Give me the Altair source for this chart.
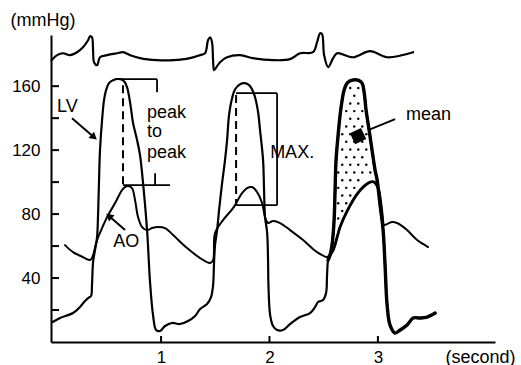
import altair as alt
import numpy as np
import pandas as pd

FONT = "Liberation Sans"

# ---- data (time in s, pressure in mmHg) ----
lv_t = [0.0, 0.068, 0.188, 0.253, 0.290, 0.327, 0.354, 0.363, 0.373, 0.391,
        0.410, 0.419, 0.428, 0.437, 0.456, 0.474, 0.493, 0.520, 0.557, 0.622,
        0.659, 0.686, 0.714, 0.742, 0.779, 0.806, 0.834, 0.871, 0.899, 0.926,
        0.954, 0.991, 1.037, 1.101, 1.175, 1.249, 1.314, 1.360, 1.424, 1.461,
        1.480, 1.489,
        1.498, 1.517, 1.535, 1.563, 1.590, 1.609, 1.627, 1.655, 1.683, 1.729,
        1.775, 1.812, 1.839, 1.867, 1.895, 1.913, 1.941, 1.950, 1.959, 1.978,
        1.987, 1.990, 2.006, 2.033, 2.070, 2.125, 2.190, 2.282, 2.374, 2.421,
        2.448, 2.494, 2.522, 2.531, 2.541,
        2.559, 2.577, 2.596, 2.605, 2.614, 2.633, 2.651, 2.670, 2.688, 2.716,
        2.762, 2.817, 2.854, 2.873, 2.891, 2.919, 2.946, 2.974, 2.993, 3.020,
        3.048, 3.066, 3.085, 3.112, 3.159, 3.205, 3.269, 3.325, 3.389, 3.454,
        3.528]
lv_p = [12.5, 15.0, 18.1, 21.9, 25.0, 27.5, 28.75, 35.6, 50.0, 57.5,
        65.6, 79.4, 101.25, 120, 138.75, 151.25, 157.5, 161.9, 163.75, 164.4,
        163.1, 159.4, 150, 136.9, 126.25, 116.9, 99.4, 70, 36.9, 16.9,
        7.5, 6.9, 10.0, 11.9, 11.25, 13.1, 16.25, 20.6, 23.75, 28.1,
        35.6, 50.0,
        60.6, 70, 82.5, 99.4, 113.75, 126.25, 141.9, 152.5, 158.1, 161.25,
        161.9, 160.6, 158.1, 153.1, 143.75, 132.5, 113.75, 95, 78.1, 68.75,
        51.25, 36.9, 16.9, 10.0, 7.5, 7.5, 11.25, 15.6, 18.1, 21.9,
        25.0, 26.25, 30.6, 41.9, 51.25,
        54.4, 60.6, 76.25, 95, 113.75, 129.4, 141.9, 151.25, 157.5, 161.9,
        163.75, 163.75, 161.9, 156.25, 145, 132.5, 120, 107.5, 101.25, 85.6,
        70, 48.1, 23.1, 10.6, 5.6, 7.5, 10.6, 15, 15, 15.6,
        18.1]

ao_t = [0.114, 0.188, 0.280, 0.345, 0.363, 0.410, 0.456, 0.502, 0.576, 0.640,
        0.668, 0.696, 0.732, 0.760, 0.788, 0.825, 0.871, 0.917, 0.972, 1.037,
        1.111, 1.240, 1.360, 1.452, 1.480, 1.498, 1.572, 1.664, 1.747, 1.793,
        1.839, 1.886, 1.932, 1.959, 1.987, 2.033, 2.098, 2.190, 2.310, 2.439,
        2.541, 2.587, 2.624, 2.651, 2.716, 2.808, 2.873, 2.928, 2.965, 3.002,
        3.029, 3.048, 3.085, 3.131, 3.177, 3.223, 3.269, 3.362, 3.463]
ao_p = [60.6, 56.25, 53.1, 51.25, 52.5, 63.75, 71.25, 78.1, 86.9, 95,
        96.9, 97.5, 96.25, 88.75, 78.1, 71.9, 70, 71.25, 71.9, 71.25,
        66.9, 58.75, 52.5, 49.4, 51.25, 68.1, 76.25, 83.75, 93.1, 96.25,
        96.9, 93.75, 86.9, 78.1, 74.4, 75.6, 74.4, 70, 63.75, 56.25,
        53.1, 57.5, 65.6, 71.9, 81.9, 92.5, 97.5, 100, 100, 96.25,
        85.6, 73.1, 73.75, 75, 74.4, 72.5, 70, 63.75, 59.4]

ecg_t = [-0.01, 0.041, 0.096, 0.161, 0.225, 0.280, 0.327, 0.345, 0.363, 0.373,
         0.382, 0.410, 0.437, 0.502, 0.594, 0.649, 0.714, 0.806, 0.963, 1.111,
         1.267, 1.360, 1.406, 1.433, 1.452, 1.470, 1.480, 1.489, 1.517, 1.544,
         1.609, 1.729, 1.849, 2.033, 2.190, 2.282, 2.402, 2.439, 2.467, 2.485,
         2.504, 2.541, 2.587, 2.624, 2.771, 2.928, 3.085, 3.325]
ecg_p = [176.25, 179.4, 180.6, 179.4, 181.25, 184.4, 188.75, 191.25, 190.6, 182.5,
         175, 173.1, 178.1, 179.4, 180.6, 181.25, 179.4, 177.5, 176.25, 176.25,
         177.5, 179.4, 180.6, 188.75, 190.6, 187.5, 176.25, 170, 172.5, 175,
         178.1, 179.4, 177.5, 176.25, 176.9, 180.6, 181.25, 187.5, 193.1, 192.5,
         179.4, 171.9, 177.5, 180.6, 178.1, 181.9, 178.1, 181.25]

y_tick_values = [20, 40, 60, 80, 100, 120, 140, 160]
y_label_values = [40, 80, 120, 160]
x_tick_values = [1, 2, 3]

# bracket segments: (t0, t1, p0, p1)
bracket_t0 = [0.576, 0.963, 0.649, 0.945, 1.692, 2.070, 1.692]
bracket_t1 = [0.963, 0.963, 1.083, 0.945, 2.070, 2.070, 2.070]
bracket_p0 = [164.4, 164.4, 98.1, 105.6, 155.6, 155.6, 85.6]
bracket_p1 = [164.4, 156.25, 98.1, 98.1, 155.6, 85.6, 85.6]
dash_t = [0.649, 1.692]
dash_p0 = [160.6, 154.4]
dash_p1 = [98.1, 85.6]

label_text = ["LV", "peak", "to", "peak", "AO", "MAX.", "mean"]
label_t = [0.041, 0.871, 0.871, 0.871, 0.558, 2.006, 3.260]
label_p = [143.75, 140.0, 128.1, 115.0, 59.4, 115.0, 138.75]

# arrows (tail -> head)
lv_arrow = (0.179, 140.0, 0.382, 128.1)
ao_arrow = (0.668, 70.0, 0.520, 78.8)
mean_mark = (2.817, 128.75)
mean_leader = (2.910, 132.5, 3.159, 139.4)

# ---- scales & axes ----
xs = alt.Scale(domain=[-0.015, 4.08], nice=False, zero=False)
ys = alt.Scale(domain=[0, 192], nice=False, zero=False)
xaxis = alt.Axis(values=x_tick_values, ticks=False, tickSize=0, grid=False,
                 domainColor="black", domainWidth=2, labelFontSize=17, labelFont=FONT,
                 labelColor="black", labelPadding=7, labelFlush=False,
                 title="(second)", titleFont=FONT, titleFontSize=18,
                 titleFontWeight="normal", titleColor="black", titleX=394, titleY=15,
                 titleAlign="left", titleBaseline="middle")
yaxis = alt.Axis(values=y_label_values, ticks=False, tickSize=0, grid=False,
                 domainColor="black", domainWidth=2, labelFontSize=17, labelFont=FONT,
                 labelColor="black", labelPadding=11,
                 title="(mmHg)", titleFont=FONT, titleFontSize=18, titleAngle=0,
                 titleFontWeight="normal", titleColor="black", titleX=-41, titleY=-15,
                 titleAlign="left", titleBaseline="middle")


def X(f):
    return alt.X(f, type="quantitative", scale=xs, axis=xaxis)


def Y(f):
    return alt.Y(f, type="quantitative", scale=ys, axis=yaxis)


def curve(ts, ps, width):
    df = pd.DataFrame({"t": ts, "p": ps, "o": list(range(len(ts)))})
    return alt.Chart(df).mark_line(color="black", strokeWidth=width,
                                   interpolate="catmull-rom", strokeJoin="round",
                                   strokeCap="round").encode(
        x=X("t"), y=Y("p"), order="o:Q")


lv_t_a = np.array(lv_t)
lv_p_a = np.array(lv_p)
ao_t_a = np.array(ao_t)
ao_p_a = np.array(ao_p)

beat3_lv = lv_t_a >= 2.541
beat3_ao = (ao_t_a >= 2.541) & (ao_t_a <= 3.05)

# stippled fill between LV and AO in the third beat
dots_t, dots_p = [], []
row_p = np.arange(58, 162, 4.8)
for i, p in enumerate(row_p):
    off = 0.037 * (i % 2)
    for t in np.arange(2.56 + off, 3.03, 0.074):
        up_c = np.interp(t, lv_t_a, lv_p_a)
        up_l = np.interp(t - 0.022, lv_t_a, lv_p_a)
        up_r = np.interp(t + 0.022, lv_t_a, lv_p_a)
        lo = np.interp(t, ao_t_a, ao_p_a)
        if p < min(up_c, up_l, up_r) - 3 and p > lo + 3:
            dots_t.append(float(t))
            dots_p.append(float(p))
dots = alt.Chart(pd.DataFrame({"t": dots_t, "p": dots_p})).mark_point(
    filled=True, color="black", size=6, opacity=1).encode(x=X("t"), y=Y("p"))

ecg = curve(ecg_t, ecg_p, 2.2)
lv = curve(lv_t, lv_p, 2.2)
ao = curve(ao_t, ao_p, 2.0)
lv3 = curve(list(lv_t_a[beat3_lv]), list(lv_p_a[beat3_lv]), 3.4)
ao3 = curve(list(ao_t_a[beat3_ao]), list(ao_p_a[beat3_ao]), 2.8)

yticks = alt.Chart(pd.DataFrame({"p": y_tick_values})).mark_rule(
    color="black", strokeWidth=2).encode(y=Y("p"), x=alt.value(0), x2=alt.value(8))
xticks = alt.Chart(pd.DataFrame({"t": x_tick_values})).mark_rule(
    color="black", strokeWidth=2).encode(x=X("t"), y=alt.value(307), y2=alt.value(301))

brackets = alt.Chart(pd.DataFrame({"t0": bracket_t0, "t1": bracket_t1,
                                   "p0": bracket_p0, "p1": bracket_p1})).mark_rule(
    color="black", strokeWidth=1.8).encode(x=X("t0"), x2="t1", y=Y("p0"), y2="p1")
dashes = alt.Chart(pd.DataFrame({"t": dash_t, "p0": dash_p0, "p1": dash_p1})).mark_rule(
    color="black", strokeWidth=2, strokeDash=[8, 5]).encode(x=X("t"), y=Y("p0"), y2="p1")

labels = alt.Chart(pd.DataFrame({"t": label_t, "p": label_p, "s": label_text})).mark_text(
    align="left", baseline="alphabetic", font=FONT, fontSize=18, color="black").encode(
    x=X("t"), y=Y("p"), text="s:N")

arrow_df = pd.DataFrame({"t0": [lv_arrow[0], ao_arrow[0], mean_leader[0]],
                         "p0": [lv_arrow[1], ao_arrow[1], mean_leader[1]],
                         "t1": [lv_arrow[2], ao_arrow[2], mean_leader[2]],
                         "p1": [lv_arrow[3], ao_arrow[3], mean_leader[3]]})
arrow_lines = alt.Chart(arrow_df).mark_rule(color="black", strokeWidth=2).encode(
    x=X("t0"), x2="t1", y=Y("p0"), y2="p1")
lv_head = alt.Chart(pd.DataFrame({"t": [lv_arrow[2]], "p": [lv_arrow[3]]})).mark_point(
    shape="triangle-up", filled=True, color="black", size=70, angle=131, opacity=1).encode(
    x=X("t"), y=Y("p"))
ao_head = alt.Chart(pd.DataFrame({"t": [ao_arrow[2]], "p": [ao_arrow[3]]})).mark_point(
    shape="triangle-up", filled=True, color="black", size=70, angle=311, opacity=1).encode(
    x=X("t"), y=Y("p"))
mean_blob = alt.Chart(pd.DataFrame({"t": [mean_mark[0]], "p": [mean_mark[1]]})).mark_point(
    shape="diamond", filled=True, color="black", size=300, angle=20, opacity=1).encode(
    x=X("t"), y=Y("p"))

chart = alt.layer(
    dots, ecg, ao, lv, ao3, lv3, yticks, xticks, brackets, dashes,
    arrow_lines, lv_head, ao_head, mean_blob, labels
).properties(
    width=444, height=307, autosize="none",
    padding={"left": 51, "top": 35, "right": 26, "bottom": 23},
    background="white"
).configure_view(stroke=None)

chart.save("out.html", embed_options={"renderer": "svg", "actions": False})
